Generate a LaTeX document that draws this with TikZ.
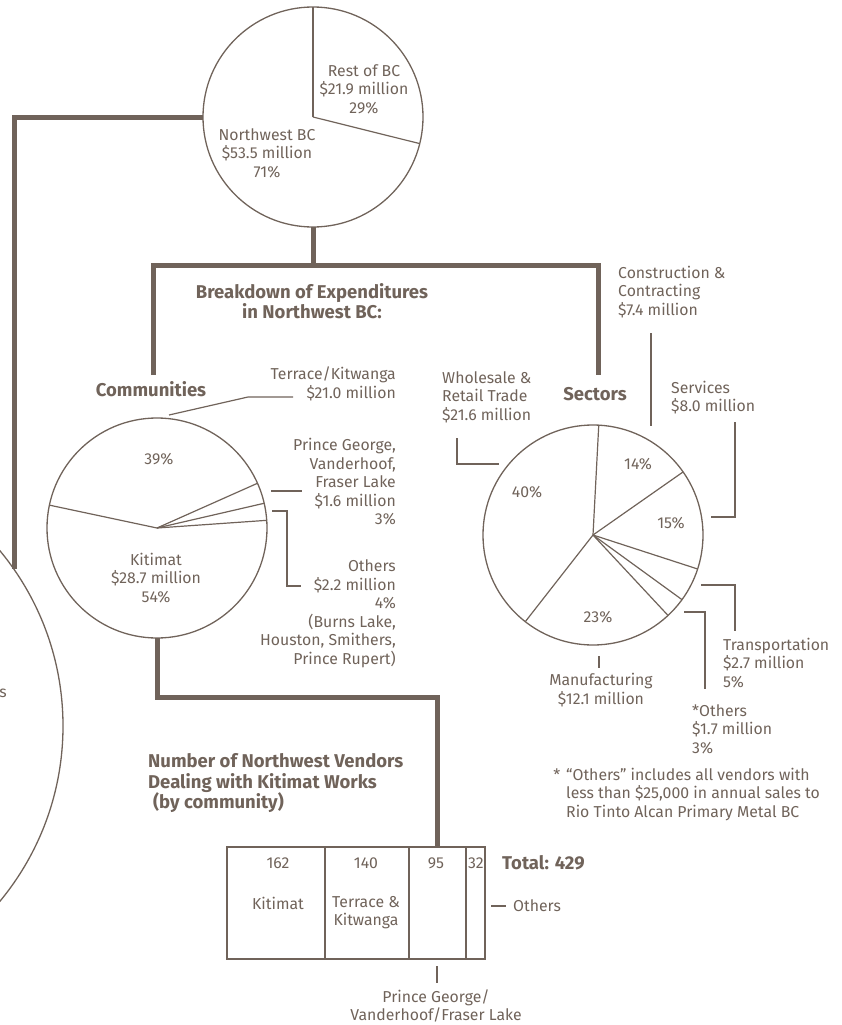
\documentclass[tikz,border=0pt]{standalone}
\usepackage{fontspec}
\setmainfont{Fira Sans}
\usetikzlibrary{calc}
\definecolor{brn}{RGB}{112,99,90}
\tikzset{
    pie/.style={circle, draw=brn, line width=1.3pt, minimum size=220pt, inner sep=0pt, outer sep=0pt},
    cell/.style={rectangle, draw=brn, line width=1.3pt, minimum height=112pt, inner sep=0pt, outer sep=0pt},
    trunk/.style={draw=brn, line width=5pt},
    lead/.style={draw=brn, line width=1.2pt},
    txt/.style={text=brn, inner sep=0pt, align=center, font=\fontsize{15.8}{18.5}\selectfont},
    head/.style={text=brn, inner sep=0pt, align=center, font=\fontsize{18.5}{20.5}\selectfont\bfseries},
}

\begin{document}
\begin{tikzpicture}[x=1pt,y=-1pt]
    \useasboundingbox (0,0) rectangle (841,1025);
    % cut-off pie on the left edge
    \begin{scope}
        \clip (0,0) rectangle (841,1025);
        \draw[lead,line width=1.3pt] (-212,726) circle [radius=275pt];
        \node[txt,anchor=east] (cut) at (7,693) {s};
    \end{scope}

    % all of BC
    \node[pie] (top) at (313,117) {};
    \draw[lead] (top.center) -- (top.90);
    \draw[lead] (top.center) -- (top.-14);
    \node[txt] (rest) at (364,89) {Rest of BC\\\$21.9 million\\29\%};
    \node[txt] (nw) at (267,153) {Northwest BC\\\$53.5 million\\71\%};

    \coordinate (split) at (313,265);
    \coordinate (commtop) at (153,375);
    \coordinate (sectop) at (598,375);
    \coordinate (bigtop) at (14,569);
    \draw[trunk] (top) -- (split);
    \draw[trunk] (commtop) |- (sectop |- split) -- (sectop);
    \draw[trunk] (top.west) -| (bigtop);
    \node[head] (brk) at (312,301) {Breakdown of Expenditures\\in Northwest BC:};

    % communities
    \node[pie] (comm) at (157,528) {};
    \foreach \a in {4,13,24,168}
        \draw[lead] (comm.center) -- (comm.\a);
    \node[head] (commh) at (151,389) {Communities};
    \node[txt] (terp) at (159,459) {39\%};
    \node[txt] (kit) at (156,578) {Kitimat\\\$28.7 million\\54\%};
    \node[txt,align=right,anchor=east] (terr) at (396,384) {Terrace/Kitwanga\\\$21.0 million};
    \node[txt,align=right,anchor=east] (pg) at (396,482) {Prince George,\\Vanderhoof,\\Fraser Lake\\\$1.6 million\\3\%};
    \node[txt,align=right,anchor=east] (oth) at (396,614) {Others\\\$2.2 million\\4\%\\(Burns Lake,\\Houston, Smithers,\\Prince Rupert)};
    \draw[lead] (169,415) -- (248,397) -- (293,397);
    \draw[lead] (271,491) -- (302,491);
    \draw[lead] (272,511) -| (287,586) -- (301,586);

    \coordinate (vendtop) at (437,847);
    \draw[trunk] (comm.south) -- ++(0,59) -| (vendtop);

    % sectors
    \node[pie] (sec) at (593,535) {};
    \foreach \a in {87,35,-18,-36,-47,232}
        \draw[lead] (sec.center) -- (sec.\a);
    \node[head] (sech) at (595,394) {Sectors};
    \node[txt] (conp) at (638,464) {14\%};
    \node[txt] (serp) at (671,523) {15\%};
    \node[txt] (whop) at (527,492) {40\%};
    \node[txt] (manp) at (598,617) {23\%};
    \node[txt,align=left,anchor=west] (who) at (442,397) {Wholesale \&\\Retail Trade\\\$21.6 million};
    \node[txt,align=left,anchor=west] (con) at (618,292) {Construction \&\\Contracting\\\$7.4 million};
    \node[txt,align=left,anchor=west] (ser) at (671,397.5) {Services\\\$8.0 million};
    \node[txt,align=left,anchor=west] (tra) at (723,663) {Transportation\\\$2.7 million\\5\%};
    \node[txt,align=left,anchor=west] (sot) at (692,729) {*Others\\\$1.7 million\\3\%};
    \node[txt] (man) at (601,690) {Manufacturing\\\$12.1 million};
    \draw[lead] (457,438) |- (499,464);
    \draw[lead] (651,333) -- (651,426);
    \draw[lead] (735,422) |- (711,517);
    \draw[lead] (701,585) -| (735,631);
    \draw[lead] (684,612) -| (705,689);
    \draw[lead] (599,656) -- (599,668);
    \node[txt,align=left,anchor=west] (note) at (566,794.5) {\llap{*\hspace{6pt}}“Others” includes all vendors with\\less than \$25,000 in annual sales to\\Rio Tinto Alcan Primary Metal BC};

    % vendors
    \node[head,align=left,anchor=west] (vh) at (148,783.5) {Number of Northwest Vendors\\Dealing with Kitimat Works\\\hspace{5pt}(by community)};
    \node[cell, minimum width=98pt] (ckit) at (276,903) {};
    \node[cell, minimum width=84pt] (cter) at (367,903) {};
    \node[cell, minimum width=57pt] (cpg) at (437.5,903) {};
    \node[cell, minimum width=19pt] (coth) at (475.5,903) {};
    \node[txt] (nkit) at (278,863) {162};
    \node[txt] (nter) at (366,863) {140};
    \node[txt] (npg) at (436,863) {95};
    \node[txt] (noth) at (476,863) {32};
    \node[txt] (lkit) at (278,903) {Kitimat};
    \node[txt] (lter) at (366,912.5) {Terrace \&\\Kitwanga};
    \node[head,anchor=west] (tot) at (502,863) {Total: 429};
    \draw[lead] (491,906) -- (506,906);
    \node[txt,anchor=west] (loth) at (513,906) {Others};
    \draw[lead] (437,966) -- (437,983);
    \node[txt] (lpg) at (436,1006) {Prince George/\\Vanderhoof/Fraser Lake};
\end{tikzpicture}
\end{document}
